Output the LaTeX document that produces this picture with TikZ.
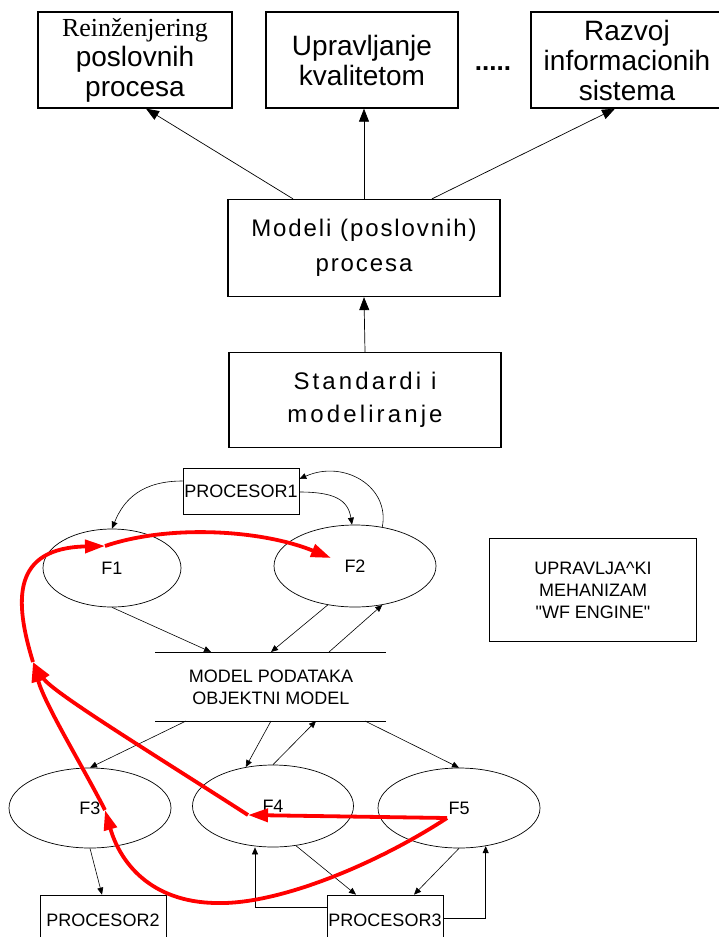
\documentclass[tikz,border=0pt]{standalone}
\usepackage{fontspec}
\setmainfont{Liberation Sans}
\newfontfamily\timesfont{Liberation Serif}
\usetikzlibrary{arrows.meta,shapes.geometric}
\begin{document}
\begin{tikzpicture}[x=1pt,y=-1pt,
  bigbox/.style={draw,line width=1.3pt,minimum width=#1,minimum height=96pt,inner sep=0pt,align=center},
  topfont/.style={font=\fontsize{28}{30}\selectfont},
  midfont/.style={font=\fontsize{24}{35}\selectfont\addfontfeature{LetterSpace=8}},
  smallbox/.style={draw,line width=0.7pt,minimum width=#1,inner sep=0pt,align=center},
  fn/.style={draw,ellipse,line width=0.7pt,inner sep=0pt},
  lbl/.style={font=\fontsize{18}{22}\selectfont},
  bigarr/.style={line width=0.7pt,-{Triangle[length=13pt,width=10pt]}},
  smarr/.style={line width=0.6pt,-{Triangle[length=7pt,width=6pt]}},
  flow/.style={red,line width=3.8pt,-{Triangle[length=20pt,width=13pt]}}]
\useasboundingbox (0,0) rectangle (718,937);

% top row: application areas
\node[bigbox=194pt,topfont] (reinz) at (135,60)
  {{\timesfont\fontsize{26}{30}\selectfont Reinženjering}\\poslovnih\\procesa};
\node[bigbox=192pt,topfont] (kval) at (362,60) {Upravljanje\\kvalitetom};
\node[font=\fontsize{26}{30}\selectfont\bfseries] (dots) at (493,69) {.....};
\node[bigbox=192pt,topfont] (razvoj) at (627,60) {Razvoj\\informacionih\\sistema};

% process models and their basis
\node[bigbox=272pt,midfont,minimum height=97pt] (modeli) at (364,248) {Modeli (poslovnih)\\procesa};
\node[bigbox=272pt,minimum height=95pt,font=\fontsize{24}{33}\selectfont\addfontfeature{LetterSpace=13}] (std) at (365,400) {Standardi i\\modeliranje};

\draw[bigarr] ([xshift=-71pt]modeli.north) -- (reinz.south -| 146,0);
\draw[bigarr] (modeli.north) -- (modeli.north |- kval.south);
\draw[bigarr] ([xshift=68pt]modeli.north) -- (razvoj.south -| 615,0);
\draw[bigarr] (std.north) -- (modeli.south);

% workflow part
\node[smallbox=116pt,minimum height=46pt,lbl] (p1) at (241,491) {PROCESOR1};
\node[fn,minimum width=138pt,minimum height=78pt,lbl] (f1) at (112,568) {F1};
\node[fn,minimum width=162pt,minimum height=82pt,lbl] (f2) at (355,566) {F2};
\node[smallbox=207pt,minimum height=103pt,lbl,align=center] (engine) at (593,590)
  {UPRAVLJA\textasciicircum KI\\MEHANIZAM\\\textquotedbl WF ENGINE\textquotedbl};

\coordinate (mtl) at (155,652);
\coordinate (mtr) at (386,652);
\coordinate (mbl) at (155,721);
\coordinate (mbr) at (386,721);
\draw[line width=0.7pt] (mtl) -- (mtr);
\draw[line width=0.7pt] (mbl) -- (mbr);
\node[lbl,align=center] (model) at (271,687) {MODEL PODATAKA\\OBJEKTNI MODEL};

\node[fn,minimum width=162pt,minimum height=80pt,lbl] (f3) at (90,808) {F3};
\node[fn,minimum width=161pt,minimum height=82pt,lbl] (f4) at (273,806) {F4};
\node[fn,minimum width=162pt,minimum height=80pt,lbl] (f5) at (459,808) {F5};

\node[smallbox=126pt,minimum height=50pt,lbl] (p2) at (103,920) {PROCESOR2};
\node[smallbox=116pt,minimum height=50pt,lbl] (p3) at (385,920) {PROCESOR3};

% connectors around PROCESOR1
\draw[smarr] ([yshift=10pt]p1.west) .. controls +(-40,0) and +(12,-30) .. (f1.north);
\draw[smarr] ([yshift=-1pt]p1.east) .. controls +(35,0) and +(-4,-25) .. ([xshift=-3pt]f2.north);
\draw[smarr] (f2.55) .. controls +(8,-40) and +(45,-20) .. ([yshift=12pt]p1.east);

% connectors to and from the data model
\coordinate (a1) at (211,652);
\coordinate (a2) at (271,652);
\coordinate (a3) at (329,652);
\draw[smarr] (f1.south) -- (a1);
\draw[smarr] (f2.235) -- (a2);
\draw[smarr] (a3) -- (f2.305);

\coordinate (b1) at (186,721);
\coordinate (b2) at (271,721);
\coordinate (b3) at (316,721);
\coordinate (b4) at (365,721);
\draw[smarr] (b1) -- (f3.north);
\draw[smarr] (b2) -- (f4.125);
\draw[smarr] (f4.north) -- (b3);
\draw[smarr] (b4) -- (f5.north);

% connectors to the processors
\draw[smarr] (f3.south) -- ([xshift=-1pt]p2.north);
\draw[smarr] (f4.300) -- ([xshift=-29pt]p3.north);
\draw[smarr] (f5.south) -- ([xshift=29pt]p3.north);
\draw[smarr] ([yshift=13pt]p3.west) -| ([xshift=-18pt]f4.south);
\draw[smarr] ([yshift=2pt]p3.east) -| (f5.305);

% workflow sequence
\coordinate (r5) at (447,818);
\coordinate (r4) at (248,815);
\coordinate (r3) at (105,810);
\coordinate (rj) at (33,662);
\coordinate (r1) at (105,546);
\coordinate (r2) at (331,558);
\coordinate (rb) at (216,903);
\draw[flow] (r5) -- (r4);
\draw[flow] (r4) .. controls (150,752) and (52,692) .. (rj);
\draw[flow] (r3) .. controls (82,765) and (45,705) .. (rj);
\draw[flow] (rj) .. controls (14,600) and (12,548) .. (r1);
\draw[flow] (r1) .. controls (170,524) and (262,530) .. (r2);
\draw[flow] (r5) .. controls (380,862) and (280,905) .. (rb)
  .. controls (150,902) and (120,862) .. (r3);
\end{tikzpicture}
\end{document}
